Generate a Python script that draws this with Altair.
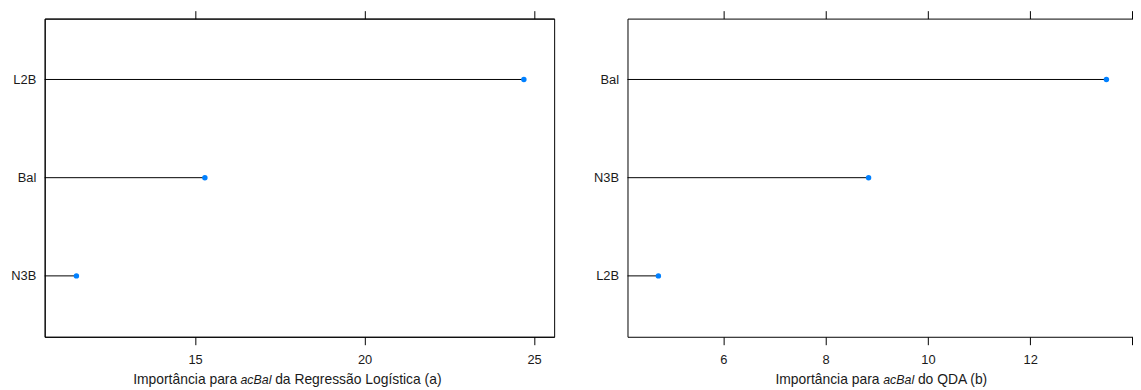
import altair as alt
import pandas as pd

# Panel (a): Regressão Logística
vars_a = ["L2B", "Bal", "N3B"]
imp_a = [24.70, 15.29, 11.50]
ticks_a = [15, 20, 25]
title_a = ["Importância para", "acBal", "da Regressão Logística (a)"]

# Panel (b): QDA
vars_b = ["Bal", "N3B", "L2B"]
imp_b = [13.49, 8.84, 4.73]
ticks_b = [6, 8, 10, 12, 14]
title_b = ["Importância para", "acBal", "do QDA (b)"]

FONT = "Liberation Sans"
TXT = "#1a1a1a"
LINE = "#000000"
PT = "#0080ff"
H = 321


def panel(names, vals, ticks, domain, width, titles, title_x, frame, hide_last):
    df = pd.DataFrame({"var": names, "imp": vals})
    yscale = alt.Scale(type="point", domain=names, padding=0.62)
    xscale = alt.Scale(domain=domain, nice=False, zero=False)
    yaxis = alt.Axis(title=None, ticks=False, labelPadding=9,
                     labelFont=FONT, labelFontSize=13, labelColor=TXT,
                     domain=True, domainColor=LINE, grid=False,
                     minExtent=36, maxExtent=36)
    label_expr = (f"datum.value == {ticks[-1]} ? '' : datum.label"
                  if hide_last else "datum.label")
    base = alt.Chart(df)
    rules = base.mark_rule(color=LINE, strokeWidth=1).encode(
        x=alt.X("imp:Q", scale=xscale,
                axis=alt.Axis(orient="top", values=ticks, labels=False, title=None,
                              tickSize=8, tickColor=LINE, domain=True,
                              domainColor=LINE, grid=False)),
        x2=alt.value(0),
        y=alt.Y("var:N", scale=yscale, axis=yaxis),
    )
    pts = base.mark_point(filled=True, shape="circle", size=30, color=PT,
                          opacity=1).encode(
        x=alt.X("imp:Q", scale=xscale,
                axis=alt.Axis(orient="bottom", values=ticks, title=None,
                              tickSize=8, tickColor=LINE, domainColor=LINE,
                              labelFont=FONT, labelFontSize=13, labelColor=TXT,
                              labelPadding=9, grid=False, labelExpr=label_expr)),
        y=alt.Y("var:N", scale=yscale, axis=yaxis),
    )
    layers = [rules, pts]
    styles = ["normal", "italic", "normal"]
    sizes = [14, 12.5, 14]
    for t, xs, st, fs in zip(titles, title_x, styles, sizes):
        layers.append(
            alt.Chart(pd.DataFrame({"t": [t]})).mark_text(
                font=FONT, fontSize=fs, fontStyle=st, color=TXT,
                align="left", baseline="alphabetic").encode(
                text="t:N", x=alt.value(xs), y=alt.value(H + 47.5))
        )
    ch = alt.layer(*layers).resolve_axis(x="independent").properties(
        width=width, height=H,
        view=alt.ViewBackground(stroke=LINE if frame else None, strokeWidth=1,
                                fill="white"))
    return ch


pa = panel(vars_a, imp_a, ticks_a, [10.564, 25.593], 514, title_a,
           [89.3, 197.5, 232.5], True, False)
pb = panel(vars_b, imp_b, ticks_b, [4.126, 14.01], 510, title_b,
           [149.3, 258, 293], False, True)

chart = alt.hconcat(pa, pb, spacing=37).properties(
    padding=0, background="white"
).configure_view(strokeWidth=1)

chart.save("out.html", embed_options={"renderer": "svg", "actions": False})
